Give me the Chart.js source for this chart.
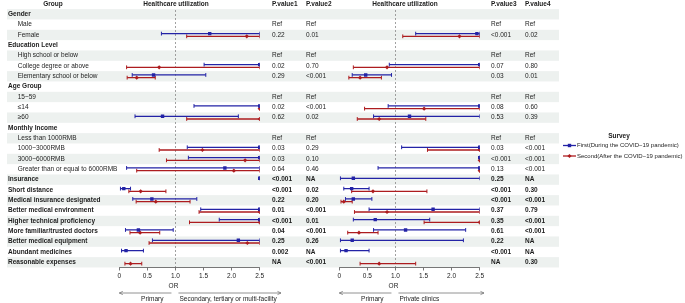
<!DOCTYPE html>
<html>
<head>
<meta charset="utf-8">
<script src="https://cdn.jsdelivr.net/npm/chart.js@4.4.0/dist/chart.umd.min.js"></script>
<style>
  html, body { margin:0; padding:0; background:#fff; }
  #wrap { position:relative; width:685px; height:303px; overflow:hidden; }
  canvas { position:absolute; top:0; }
</style>
</head>
<body>
<div id="wrap">
  <canvas id="left" width="333" height="303" style="left:0"></canvas>
  <canvas id="right" width="352" height="303" style="left:333px"></canvas>
</div>
<script>
// ── data ─────────────────────────────────────────
const groups = ['Gender','Male','Female','Education Level','High school or below','College degree or above',
  'Elementary school or below','Age Group','15~59','≤14','≥60','Monthly Income','Less than 1000RMB',
  '1000~3000RMB','3000~6000RMB','Greater than or equal to 6000RMB','Insurance','Short distance',
  'Medical insurance designated','Better medical environment','Higher technical proficiency',
  'More familiar/trusted doctors','Better medical equipment','Abundant medicines','Reasonable expenses'];
const sections = ['Gender','Education Level','Age Group','Monthly Income'];
const factors = ['Insurance','Short distance','Medical insurance designated','Better medical environment',
  'Higher technical proficiency','More familiar/trusted doctors','Better medical equipment',
  'Abundant medicines','Reasonable expenses'];
const surveys = ['First(During the COVID−19 pandemic)', 'Second(After the COVID−19 pandemic)'];
const orTicks = [0, 0.5, 1, 1.5, 2, 2.5];

// panel A: Secondary, tertiary or multi-facility vs Primary
const firstLoA  = [null,null,0.75,null,null,1.51,0.23,null,null,1.33,0.28,null,null,1.21,1.23,0.13,2.5,0.02,0.24,1.45,1.78,0.11,0.59,0.04,null];
const firstOrA  = [null,null,1.61,null,null,2.5,0.61,null,null,2.5,0.77,null,null,2.5,2.5,1.88,2.5,0.08,0.58,2.5,2.5,0.34,2.12,0.12,null];
const firstHiA  = [null,null,2.5,null,null,2.5,1.54,null,null,2.5,2.12,null,null,2.5,2.5,2.5,2.5,0.2,1.38,2.5,2.5,0.96,2.5,0.43,null];
const secondLoA = [null,null,1.2,null,null,0.13,0.14,null,null,2.5,1.2,null,null,0.71,0.84,0.31,null,0.17,0.30,1.42,1.25,0.19,0.53,null,0.1];
const secondOrA = [null,null,2.27,null,null,0.71,0.31,null,null,2.5,2.5,null,null,1.48,2.24,2.04,null,0.38,0.65,2.5,2.5,0.37,2.28,null,0.2];
const secondHiA = [null,null,2.5,null,null,2.5,0.64,null,null,2.5,2.5,null,null,2.5,2.5,2.5,null,0.83,1.26,2.5,2.5,0.72,2.5,null,0.4];

// panel B: Private clinics vs Primary
const firstLoB  = [null,null,1.36,null,null,0.89,0.23,null,null,0.87,0.61,null,null,1.11,2.5,0.69,0.02,0.08,0.11,0.53,0.25,0.61,0.02,0.02,null];
const firstOrB  = [null,null,2.45,null,null,2.5,0.47,null,null,2.5,1.25,null,null,2.5,2.5,2.5,0.25,0.22,0.25,1.67,0.64,1.18,0.23,0.12,null];
const firstHiB  = [null,null,2.5,null,null,2.5,0.93,null,null,2.5,2.5,null,null,2.5,2.5,2.5,2.5,0.53,0.58,2.5,1.61,2.25,2.21,0.53,null];
const secondLoB = [null,null,1.13,null,null,0.25,0.17,null,null,0.45,0.32,null,null,1.57,2.5,2.5,null,0.22,0.03,0.27,1.51,0.15,null,null,0.37];
const secondOrB = [null,null,2.14,null,null,0.85,0.37,null,null,1.51,0.71,null,null,2.5,2.5,2.5,null,0.6,0.08,0.85,2.5,0.35,null,null,0.71];
const secondHiB = [null,null,2.5,null,null,2.5,0.75,null,null,2.5,1.54,null,null,2.5,2.5,2.5,null,1.56,0.23,2.5,2.5,0.69,null,null,1.36];

const p1 = ['','Ref','0.22','','Ref','0.02','0.29','','Ref','0.02','0.62','','Ref','0.03','0.03','0.64','<0.001','<0.001','0.22','0.01','<0.001','0.04','0.25','0.002','NA'];
const p2 = ['','Ref','0.01','','Ref','0.70','<0.001','','Ref','<0.001','0.02','','Ref','0.29','0.10','0.46','NA','0.02','0.20','<0.001','0.01','<0.001','0.26','NA','<0.001'];
const p3 = ['','Ref','<0.001','','Ref','0.07','0.03','','Ref','0.08','0.53','','Ref','0.03','<0.001','0.13','0.25','<0.001','<0.001','0.37','0.35','0.61','0.22','<0.001','NA'];
const p4 = ['','Ref','0.02','','Ref','0.80','0.01','','Ref','0.60','0.39','','Ref','<0.001','<0.001','<0.001','NA','0.30','<0.001','0.79','<0.001','<0.001','NA','NA','0.30'];

// ── styling ──────────────────────────────────────
const FONT = "'Liberation Sans', Arial, sans-serif";
const BLUE = '#2323a6';
const RED  = '#ad1c1f';
const STRIPE = '#edf1ef';
const TXT = '#1c1c1c';
const OFF = 0.13;           // vertical nudge between the two surveys
const ROWS = groups.length;

function ciLine(lo, hi, off) {
  const pts = [];
  lo.forEach((v, i) => {
    if (v == null) return;
    pts.push({ x: v, y: i + 1 + off }, { x: hi[i], y: i + 1 + off }, { x: hi[i], y: null });
  });
  return pts;
}
function capPts(lo, hi, off) {
  const pts = [];
  lo.forEach((v, i) => {
    if (v == null) return;
    pts.push({ x: v, y: i + 1 + off }, { x: hi[i], y: i + 1 + off });
  });
  return pts;
}
function estPts(or, off) {
  return or.map((v, i) => v == null ? null : { x: v, y: i + 1 + off }).filter(p => p);
}

function seriesSets(fLo, fOr, fHi, sLo, sOr, sHi) {
  return [
    { data: estPts(fOr, -OFF), pointStyle: 'rect', pointRadius: 2.4, backgroundColor: BLUE, borderColor: BLUE, borderWidth: 0 },
    { data: capPts(fLo, fHi, -OFF), pointStyle: 'line', rotation: 90, pointRadius: 1.9, borderColor: BLUE, borderWidth: 1 },
    { data: ciLine(fLo, fHi, -OFF), showLine: true, pointRadius: 0, borderColor: BLUE, borderWidth: 1.3 },
    { data: estPts(sOr, OFF), pointStyle: 'rectRot', pointRadius: 2.1, backgroundColor: RED, borderColor: RED, borderWidth: 0 },
    { data: capPts(sLo, sHi, OFF), pointStyle: 'line', rotation: 90, pointRadius: 1.9, borderColor: RED, borderWidth: 1 },
    { data: ciLine(sLo, sHi, OFF), showLine: true, pointRadius: 0, borderColor: RED, borderWidth: 1.3 }
  ];
}

function font(size, bold) { return (bold ? 'bold ' : '') + size + 'px ' + FONT; }

function text(ctx, s, x, y, align, bold, size) {
  ctx.font = font(size || 6.5, bold);
  ctx.fillStyle = TXT;
  ctx.textAlign = align || 'left';
  ctx.textBaseline = 'middle';
  ctx.fillText(s, x, y);
}

function arrow(ctx, x1, x2, y) {
  // line from x1 to x2, head at x2
  const d = x2 > x1 ? -1 : 1;
  ctx.save();
  ctx.strokeStyle = '#777';
  ctx.lineWidth = 0.8;
  ctx.beginPath();
  ctx.moveTo(x1, y); ctx.lineTo(x2, y);
  ctx.moveTo(x2 + d * 3.5, y - 1.6); ctx.lineTo(x2, y); ctx.lineTo(x2 + d * 3.5, y + 1.6);
  ctx.stroke();
  ctx.restore();
}

function tablePlugin(cfg) {
  return {
    id: 'forestTable',
    beforeDraw(chart) {
      const { ctx } = chart;
      const y = chart.scales.y, x = chart.scales.x;
      ctx.save();
      ctx.fillStyle = STRIPE;
      for (let r = 1; r <= ROWS; r += 2) {
        const t = y.getPixelForValue(r - 0.5), b = y.getPixelForValue(r + 0.5);
        ctx.fillRect(cfg.stripeFrom, t, cfg.stripeTo - cfg.stripeFrom, b - t);
      }
      // reference line at OR = 1
      const x1 = x.getPixelForValue(1);
      ctx.strokeStyle = '#8a8a8a';
      ctx.lineWidth = 0.8;
      ctx.setLineDash([2, 2]);
      ctx.beginPath();
      ctx.moveTo(x1, 10); ctx.lineTo(x1, chart.chartArea.bottom);
      ctx.stroke();
      ctx.restore();
    },
    afterDraw(chart) {
      const { ctx } = chart;
      const y = chart.scales.y, x = chart.scales.x;
      const hy = y.getPixelForValue(0);
      ctx.save();
      if (cfg.groupCol) {
        text(ctx, 'Group', 53, hy, 'center', true);
        groups.forEach((g, i) => {
          const sec = sections.includes(g), fac = factors.includes(g);
          text(ctx, g, (sec || fac) ? 8 : 17.7, y.getPixelForValue(i + 1), 'left', sec || fac);
        });
      }
      text(ctx, 'Healthcare utilization', cfg.headerX, hy, 'center', true);
      cfg.pCols.forEach(col => {
        text(ctx, col.label, col.x, hy, 'left', true);
        col.vals.forEach((v, i) => {
          if (v) text(ctx, v, col.x, y.getPixelForValue(i + 1), 'left', factors.includes(groups[i]));
        });
      });
      // axis caption and direction arrows
      const x0 = x.getPixelForValue(0), x1 = x.getPixelForValue(1);
      text(ctx, 'OR', x1 - 2, 286.5, 'center');
      arrow(ctx, x1 - 4, x0, 293);
      arrow(ctx, x1 + 3, cfg.arrowEnd, 293);
      text(ctx, 'Primary', x0 + 33, 299, 'center');
      text(ctx, cfg.rightLabel, x1 + 4, 299, 'left');
      if (cfg.legendX != null) {
        const lx = cfg.legendX;
        text(ctx, 'Survey', lx + 56, 136, 'center', true);
        [[BLUE, 'rect', 145.5], [RED, 'diamond', 156]].forEach(([c, shape, ly], k) => {
          ctx.strokeStyle = c; ctx.fillStyle = c; ctx.lineWidth = 1.3;
          ctx.beginPath(); ctx.moveTo(lx, ly); ctx.lineTo(lx + 13, ly); ctx.stroke();
          ctx.beginPath();
          if (shape === 'rect') ctx.rect(lx + 6.5 - 1.7, ly - 1.7, 3.4, 3.4);
          else { ctx.moveTo(lx + 6.5, ly - 2.1); ctx.lineTo(lx + 8.6, ly); ctx.lineTo(lx + 6.5, ly + 2.1); ctx.lineTo(lx + 4.4, ly); ctx.closePath(); }
          ctx.fill();
          text(ctx, surveys[k], lx + 14, ly, 'left', false, 6);
        });
      }
      ctx.restore();
    }
  };
}

function makeChart(id, sets, padLeft, padRight, cfg) {
  return new Chart(document.getElementById(id), {
    type: 'scatter',
    data: { datasets: sets },
    options: {
      responsive: false, animation: false, events: [],
      layout: { padding: { left: padLeft, right: padRight, top: 9.13, bottom: 0 } },
      plugins: { legend: { display: false }, tooltip: { enabled: false } },
      scales: {
        x: {
          type: 'linear', min: 0, max: 2.5, position: 'bottom',
          afterBuildTicks: s => { s.ticks = orTicks.map(v => ({ value: v })); },
          afterFit: s => { s.height = 303 - 267.47; },
          grid: { display: true, drawOnChartArea: false, drawTicks: true, tickLength: 3, color: '#555', lineWidth: 0.8 },
          border: { display: true, color: '#555', width: 0.8 },
          ticks: { font: { family: FONT, size: 6.5 }, color: '#222', padding: 1.5, maxRotation: 0, autoSkip: false }
        },
        y: { type: 'linear', min: 0.5, max: ROWS + 0.5, reverse: true, display: false }
      }
    },
    plugins: [tablePlugin(cfg)]
  });
}

makeChart('left', seriesSets(firstLoA, firstOrA, firstHiA, secondLoA, secondOrA, secondHiA),
  119.3, 333 - 259.7, {
    groupCol: true, stripeFrom: 7, stripeTo: 333, headerX: 176,
    pCols: [{ x: 272, label: 'P.value1', vals: p1 }, { x: 306, label: 'P.value2', vals: p2 }],
    arrowEnd: 281, rightLabel: 'Secondary, tertiary or multi-facility'
  });

makeChart('right', seriesSets(firstLoB, firstOrB, firstHiB, secondLoB, secondOrB, secondHiB),
  339.3 - 333, 352 - (479.7 - 333), {
    groupCol: false, stripeFrom: 0, stripeTo: 559 - 333, headerX: 405 - 333,
    pCols: [{ x: 491 - 333, label: 'P.value3', vals: p3 }, { x: 525 - 333, label: 'P.value4', vals: p4 }],
    arrowEnd: 484 - 333, rightLabel: 'Private clinics', legendX: 563 - 333
  });
</script>
</body>
</html>
